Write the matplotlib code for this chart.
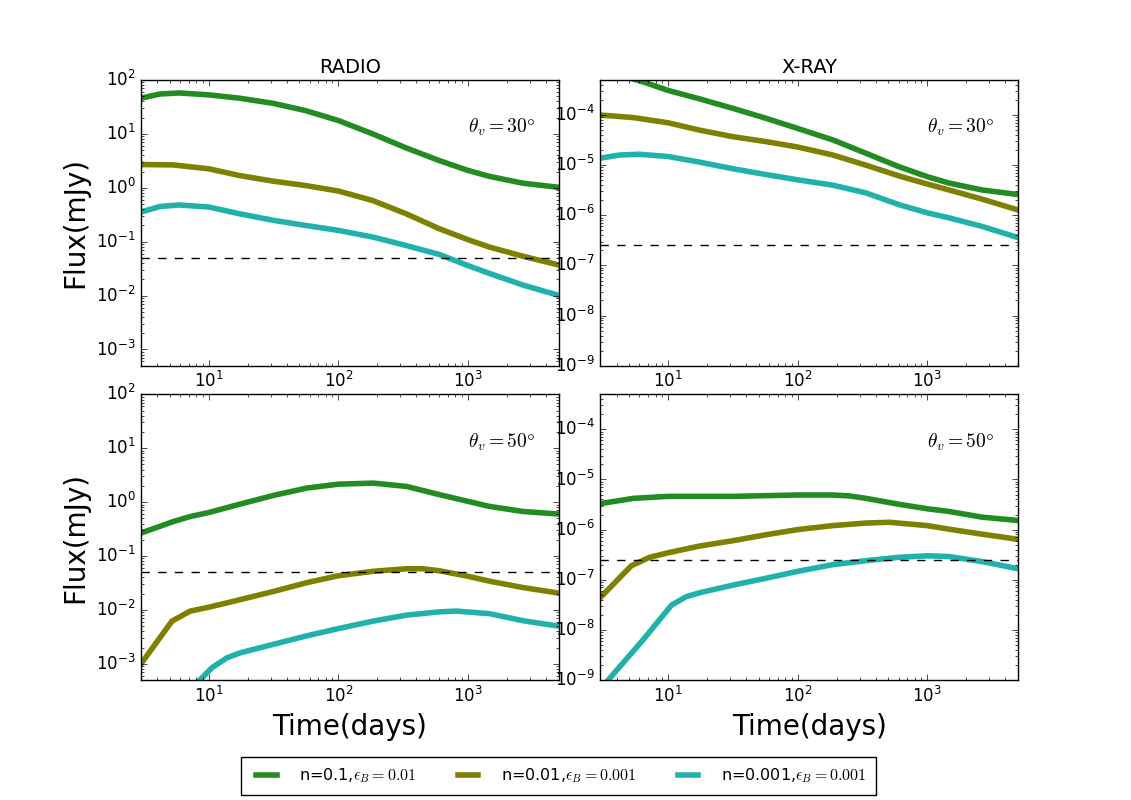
import matplotlib
matplotlib.use("Agg")
import matplotlib.pyplot as plt

plt.style.use("classic")

# ---------------- data ----------------
labels = [r"n=0.1,$\epsilon_B=0.01$", r"n=0.01,$\epsilon_B=0.001$", r"n=0.001,$\epsilon_B=0.001$"]
colors = ["#228B22", "#808000", "#20B2AA"]

# Radio, theta_v = 30
r30_t = [[3, 4.2, 5.9, 10, 17.2, 31.2, 56, 100, 184, 333, 600, 1000, 1450, 2630, 5000],
         [3, 5.3, 10, 17.2, 31.2, 56, 100, 184, 333, 600, 1000, 1450, 2630, 5000],
         [3, 4.2, 5.9, 10, 17.2, 31.2, 56, 100, 184, 333, 600, 1000, 1450, 2630, 5000]]
r30_f = [[46, 55, 57.5, 53, 46, 37, 27, 17.7, 10, 5.5, 3.2, 2.1, 1.64, 1.22, 1.02],
         [2.7, 2.66, 2.25, 1.69, 1.33, 1.1, 0.87, 0.58, 0.33, 0.174, 0.109, 0.08, 0.054, 0.037],
         [0.355, 0.45, 0.48, 0.44, 0.33, 0.25, 0.2, 0.162, 0.122, 0.085, 0.058, 0.036, 0.026, 0.0158, 0.0101]]

# X-ray, theta_v = 30
x30_t = [[3, 4.2, 6.4, 10, 17.5, 31.6, 57, 100, 186, 336, 605, 1000, 1470, 2650, 5000],
         [3, 5.4, 10, 17.5, 31.6, 57, 100, 186, 336, 605, 1000, 1470, 2650, 5000],
         [3, 4.25, 6.0, 10, 17.5, 31.6, 57, 100, 186, 336, 605, 1000, 1470, 2650, 5000]]
x30_f = [[8.0e-4, 6.3e-4, 4.6e-4, 3.1e-4, 2.1e-4, 1.36e-4, 8.6e-5, 5.4e-5, 3.2e-5, 1.73e-5, 9.3e-6, 5.9e-6, 4.4e-6, 3.2e-6, 2.6e-6],
         [1.0e-4, 8.9e-5, 7.0e-5, 5.0e-5, 3.7e-5, 2.95e-5, 2.3e-5, 1.6e-5, 1.0e-5, 6.1e-6, 4.2e-6, 3.2e-6, 2.1e-6, 1.28e-6],
         [1.38e-5, 1.6e-5, 1.65e-5, 1.49e-5, 1.15e-5, 8.5e-6, 6.5e-6, 5.1e-6, 4.0e-6, 2.8e-6, 1.63e-6, 1.12e-6, 8.9e-7, 6.0e-7, 3.6e-7]]

# Radio, theta_v = 50
r50_t = [[3, 5.4, 7.2, 10, 17.5, 31.6, 57, 100, 186, 336, 605, 1000, 1470, 2650, 5000],
         [3, 5.2, 7.2, 10, 17.5, 31.6, 57, 100, 186, 336, 450, 605, 1000, 1470, 2650, 5000],
         [7, 8.6, 10.6, 13.8, 17.5, 31.6, 57, 100, 186, 336, 605, 810, 1470, 2650, 5000]]
r50_f = [[0.267, 0.44, 0.54, 0.64, 0.92, 1.33, 1.82, 2.15, 2.25, 1.95, 1.37, 1.03, 0.83, 0.67, 0.6],
         [1.0e-3, 6.2e-3, 9.5e-3, 1.12e-2, 1.55e-2, 2.2e-2, 3.2e-2, 4.3e-2, 5.2e-2, 5.8e-2, 5.8e-2, 5.3e-2, 4.2e-2, 3.4e-2, 2.6e-2, 2.05e-2],
         [3.1e-4, 5.1e-4, 8.5e-4, 1.29e-3, 1.6e-3, 2.3e-3, 3.3e-3, 4.5e-3, 6.2e-3, 8.0e-3, 9.2e-3, 9.5e-3, 8.5e-3, 6.3e-3, 5.0e-3]]

# X-ray, theta_v = 50
x50_t = [[3, 5.4, 10, 31.6, 100, 186, 250, 336, 605, 1000, 1470, 2650, 5000],
         [3, 5.2, 7.2, 10, 17.5, 31.6, 57, 100, 186, 336, 510, 1000, 1470, 2650, 5000],
         [3, 3.45, 6.4, 10.6, 13.8, 17.5, 31.6, 57, 100, 186, 336, 605, 1000, 1470, 2650, 5000]]
x50_f = [[3.3e-6, 4.2e-6, 4.6e-6, 4.6e-6, 4.9e-6, 4.9e-6, 4.7e-6, 4.2e-6, 3.2e-6, 2.6e-6, 2.3e-6, 1.77e-6, 1.52e-6],
         [4.4e-8, 1.9e-7, 2.8e-7, 3.45e-7, 4.7e-7, 6.0e-7, 7.9e-7, 1.0e-6, 1.2e-6, 1.35e-6, 1.4e-6, 1.2e-6, 1.02e-6, 8.1e-7, 6.4e-7],
         [6.5e-10, 1.0e-9, 6.3e-9, 3.1e-8, 4.6e-8, 5.5e-8, 7.8e-8, 1.07e-7, 1.47e-7, 2.0e-7, 2.4e-7, 2.8e-7, 3.0e-7, 2.9e-7, 2.3e-7, 1.66e-7]]

radio_limit = 0.05
xray_limit = 2.5e-7
angles = [30, 50]

# ---------------- plot ----------------
fig, axes = plt.subplots(2, 2, figsize=(11.31, 8.0), dpi=100, facecolor="white")
fig.subplots_adjust(left=0.1247, right=0.9, top=0.9, bottom=0.15, wspace=0.1, hspace=0.1)

panels = [(axes[0, 0], r30_t, r30_f, radio_limit, (5e-4, 100), angles[0]),
          (axes[0, 1], x30_t, x30_f, xray_limit, (1e-9, 5e-4), angles[0]),
          (axes[1, 0], r50_t, r50_f, radio_limit, (5e-4, 100), angles[1]),
          (axes[1, 1], x50_t, x50_f, xray_limit, (1e-9, 5e-4), angles[1])]

handles = []
for ax, ts, fs, lim, ylim, ang in panels:
    ax.set_facecolor("white")
    hs = []
    for t, f, c, lab in zip(ts, fs, colors, labels):
        h, = ax.plot(t, f, color=c, lw=4, label=lab, solid_joinstyle="round")
        hs.append(h)
    handles = hs
    ax.axhline(lim, color="k", ls="--", lw=1)
    ax.set_xscale("log")
    ax.set_yscale("log")
    ax.set_xlim(3, 5000)
    ax.set_ylim(*ylim)
    ax.text(0.782, 0.833, r"$\theta_v=%d\degree$" % ang, transform=ax.transAxes,
            fontsize=14, ha="left", va="center")
    ax.tick_params(labelsize=12)

axes[0, 0].set_title("RADIO", fontsize=14)
axes[0, 1].set_title("X-RAY", fontsize=14)
axes[0, 0].set_ylabel("Flux(mJy)", fontsize=20)
axes[1, 0].set_ylabel("Flux(mJy)", fontsize=20)
axes[1, 0].set_xlabel("Time(days)", fontsize=20)
axes[1, 1].set_xlabel("Time(days)", fontsize=20)

leg = fig.legend(handles, labels, loc="center", bbox_to_anchor=(0.494, 0.03), ncol=3,
                 fontsize=11.5, handlelength=1.9, handletextpad=1.1, columnspacing=2.3,
                 borderpad=0.6, borderaxespad=0.0, fancybox=False, frameon=True)
leg.get_frame().set_edgecolor("black")

fig.savefig("out.png", dpi=100, facecolor="white")
